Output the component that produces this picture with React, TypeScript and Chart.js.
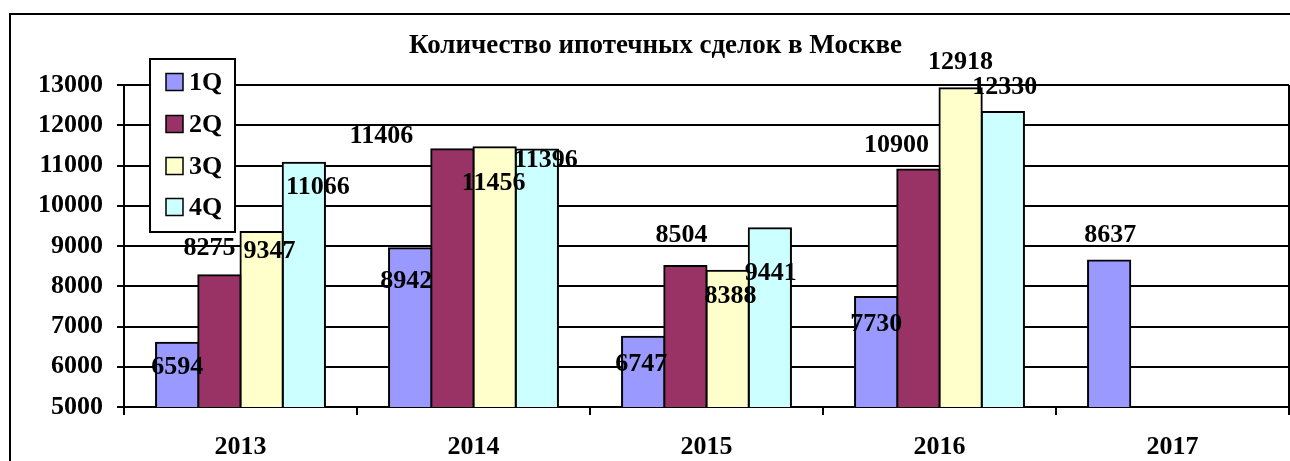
import React, { useEffect, useRef } from "react";
import { Chart, registerables } from "chart.js";

Chart.register(...registerables);

const chartTitle = "Количество ипотечных сделок в Москве";
const years = ["2013", "2014", "2015", "2016", "2017"];
const seriesNames = ["1Q", "2Q", "3Q", "4Q"];
const q1 = [6594, 8942, 6747, 7730, 8637];
const q2 = [8275, 11406, 8504, 10900, null];
const q3 = [9347, 11456, 8388, 12918, null];
const q4 = [11066, 11396, 9441, 12330, null];
const yTickValues = [5000, 6000, 7000, 8000, 9000, 10000, 11000, 12000, 13000];

// styles
const seriesColors = ["#9999FF", "#993366", "#FFFFCC", "#CCFFFF"];
// label placement relative to the top-centre of each bar (px), as in the original
const labelDx = [
  [0, -4, -2, 0, 1],
  [-10, -71, -4, -22, 0],
  [8, -1, 3, 0, 0],
  [14, 9, 1, 2, 0],
];
const labelDy = [
  [22, 31, 25, 25, -28],
  [-29, -15, -33, -27, 0],
  [17, 34, 23, -28, 0],
  [22, 8, 43, -27, 0],
];

const FONT = "'Liberation Serif', 'Times New Roman', serif";
const FS = 26;

export default function App() {
  const ref = useRef<HTMLCanvasElement | null>(null);

  useEffect(() => {
    document.body.style.margin = "0";
    document.body.style.overflow = "hidden";
    const canvas = ref.current;
    if (!canvas) return;

    const series = [q1, q2, q3, q4];

    const decor = {
      id: "decor",
      beforeDraw(chart: any) {
        const ctx = chart.ctx;
        ctx.save();
        ctx.fillStyle = "#fff";
        ctx.fillRect(0, 0, chart.width, chart.height);
        ctx.strokeStyle = "#000";
        ctx.lineWidth = 2;
        ctx.beginPath();
        ctx.moveTo(10, chart.height + 5);
        ctx.lineTo(10, 14);
        ctx.lineTo(chart.width + 5, 14);
        ctx.stroke();
        // title
        ctx.fillStyle = "#000";
        ctx.font = `bold 27px ${FONT}`;
        ctx.textAlign = "center";
        ctx.textBaseline = "alphabetic";
        ctx.fillText(chartTitle, 655.5, 53);
        ctx.restore();
      },
      afterDatasetsDraw(chart: any) {
        const ctx = chart.ctx;
        const a = chart.chartArea;
        ctx.save();
        ctx.strokeStyle = "#000";
        ctx.lineWidth = 2;
        ctx.beginPath();
        ctx.moveTo(a.right, a.top);
        ctx.lineTo(a.right, a.bottom);
        ctx.stroke();
        ctx.fillStyle = "#000";
        ctx.font = `bold ${FS}px ${FONT}`;
        ctx.textAlign = "center";
        ctx.textBaseline = "alphabetic";
        chart.data.datasets.forEach((ds: any, i: number) => {
          const meta = chart.getDatasetMeta(i);
          meta.data.forEach((el: any, j: number) => {
            const v = ds.data[j];
            if (v == null) return;
            ctx.fillText(String(v), el.x + labelDx[i][j], el.y + labelDy[i][j] + 9);
          });
        });
        ctx.restore();
      },
      afterDraw(chart: any) {
        const ctx = chart.ctx;
        ctx.save();
        ctx.fillStyle = "#fff";
        ctx.fillRect(150, 59, 85, 173);
        ctx.strokeStyle = "#000";
        ctx.lineWidth = 2;
        ctx.strokeRect(150, 59, 85, 173);
        const rows = [82, 124, 166, 207];
        ctx.font = `bold ${FS}px ${FONT}`;
        ctx.textAlign = "left";
        ctx.textBaseline = "middle";
        chart.data.datasets.forEach((ds: any, i: number) => {
          const cy = rows[i];
          ctx.fillStyle = ds.backgroundColor;
          ctx.fillRect(166, cy - 8.5, 17, 17);
          ctx.lineWidth = 1.5;
          ctx.strokeRect(166, cy - 8.5, 17, 17);
          ctx.fillStyle = "#000";
          ctx.fillText(ds.label, 189, cy + 1);
        });
        ctx.restore();
      },
    };

    const chart = new Chart(canvas, {
      type: "bar",
      data: {
        labels: years,
        datasets: series.map((d, i) => ({
          label: seriesNames[i],
          data: d,
          backgroundColor: seriesColors[i],
          borderColor: "#000",
          borderWidth: 2,
          borderSkipped: false,
          inflateAmount: 1,
          categoryPercentage: 0.725,
          barPercentage: 1,
        })),
      },
      options: {
        responsive: false,
        animation: false,
        layout: { padding: { top: 85, right: 1, left: 0, bottom: 0 } },
        plugins: {
          legend: { display: false },
          title: { display: false },
          tooltip: { enabled: false },
        },
        scales: {
          x: {
            offset: true,
            grid: {
              display: true,
              offset: true,
              drawOnChartArea: false,
              drawTicks: true,
              tickLength: 8,
              color: "#000",
              lineWidth: 2,
            },
            border: { display: true, color: "#000", width: 2 },
            ticks: {
              color: "#000",
              padding: 17,
              maxRotation: 0,
              font: { family: FONT, size: FS, weight: "bold" },
            },
            afterFit(s: any) {
              s.height = 54;
            },
          },
          y: {
            min: 5000,
            max: 13000,
            grid: {
              color: "#000",
              lineWidth: 2,
              tickLength: 7,
              drawTicks: true,
            },
            border: { display: true, color: "#000", width: 2 },
            ticks: {
              color: "#000",
              padding: 14,
              font: { family: FONT, size: FS, weight: "bold" },
              callback: (v: any) => String(v),
            },
            afterBuildTicks(s: any) {
              s.ticks = yTickValues.map((v) => ({ value: v }));
            },
            afterFit(s: any) {
              s.width = 124;
            },
          },
        },
      },
      plugins: [decor],
    } as any);

    return () => chart.destroy();
  }, []);

  return <canvas ref={ref} width={1290} height={461} style={{ display: "block" }} />;
}
